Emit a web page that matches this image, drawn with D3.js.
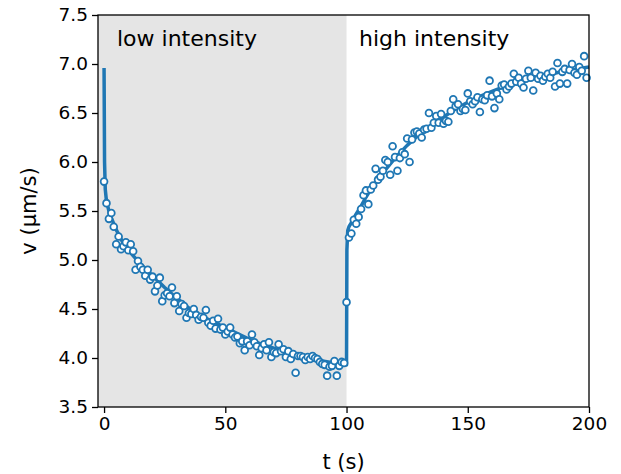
<!DOCTYPE html>
<html><head><meta charset="utf-8">
<script src="https://cdn.jsdelivr.net/npm/d3@7"></script>
<style>body{margin:0;background:#fff}svg{display:block}text{font-family:"DejaVu Sans",sans-serif}</style>
</head><body><svg id="c" width="621" height="474"></svg>
<script>
// ----- data -----
const lowT = d3.range(0, 100);
const lowV = [5.80,5.58,5.42,5.48,5.34,5.16,5.24,5.11,5.14,5.18,
  5.10,5.16,5.09,4.90,4.99,4.93,4.90,4.84,4.90,4.80,
  4.83,4.68,4.74,4.82,4.58,4.64,4.66,4.63,4.72,4.56,
  4.63,4.48,4.55,4.53,4.41,4.46,4.45,4.50,4.44,4.39,
  4.42,4.41,4.49,4.36,4.33,4.38,4.30,4.40,4.29,4.31,
  4.24,4.27,4.31,4.24,4.21,4.22,4.15,4.17,4.08,4.17,
  4.13,4.24,4.16,4.12,4.03,4.10,4.14,4.08,4.16,4.01,
  4.06,4.05,4.14,4.07,4.09,4.01,4.07,3.99,4.04,3.85,
  4.02,4.02,4.01,3.98,4.01,3.99,4.02,4.00,3.99,3.96,
  3.94,3.93,3.82,3.91,3.92,3.97,3.82,3.92,3.96,3.95];
const highT = d3.range(100, 200);
const highV = [4.57,5.23,5.27,5.41,5.37,5.44,5.52,5.66,5.71,5.57,
  5.72,5.76,5.93,5.82,5.85,5.91,6.02,6.00,5.87,6.16,
  6.05,5.91,6.04,6.10,6.08,6.24,6.00,6.23,6.30,6.31,
  6.29,6.25,6.33,6.34,6.50,6.35,6.40,6.47,6.40,6.49,
  6.39,6.42,6.41,6.52,6.64,6.57,6.59,6.52,6.54,6.53,
  6.70,6.62,6.59,6.62,6.66,6.51,6.64,6.63,6.68,6.83,
  6.67,6.55,6.70,6.64,6.78,6.79,6.74,6.77,6.80,6.90,
  6.82,6.86,6.80,6.76,6.85,6.93,6.86,6.73,6.91,6.85,
  6.88,6.83,6.87,6.90,6.86,6.92,6.77,7.01,6.80,6.92,
  6.95,6.80,6.94,7.00,6.91,6.89,6.97,6.93,7.08,6.86];
const fitLowT = [0,0.2,0.5,1,2,3,5,7.5,10,15,20,25,30,35,40,45,50,55,60,65,70,75,80,85,90,95,100];
const fitLowV = [6.96,6.0,5.72,5.6,5.5,5.43,5.31,5.19,5.10,4.96,4.84,4.72,4.61,4.51,4.43,4.37,4.31,4.25,4.19,4.14,4.10,4.06,4.03,4.00,3.97,3.95,3.93];
const fitHighT = [100,100.15,100.5,101,102,104,106,108,110,115,120,125,130,135,140,145,150,155,160,165,170,175,180,185,190,195,200];
const fitHighV = [3.93,5.1,5.3,5.34,5.38,5.47,5.55,5.64,5.72,5.89,6.04,6.17,6.28,6.38,6.46,6.54,6.61,6.67,6.72,6.77,6.81,6.84,6.87,6.90,6.93,6.95,6.97];
const xTicks = [0,50,100,150,200];
const yTicks = [3.5,4.0,4.5,5.0,5.5,6.0,6.5,7.0,7.5];
const regionLabels = ["low intensity","high intensity"];
const xLabel = "t (s)", yLabel = "v (μm/s)";

// ----- layout -----
const L=98, R=589, T=15, B=407;
const svg = d3.select("#c");
const x = d3.scaleLinear().domain([-2.5,200]).range([L,R]);
const y = d3.scaleLinear().domain([3.5,7.5]).range([B,T]);
const blue = "#1f77b4";

svg.append("rect").attr("x",x(-2.5)).attr("y",T).attr("width",x(100)-x(-2.5)).attr("height",B-T).attr("fill","#e5e5e5");

const g = svg.append("g");
const line = d3.line().x(d=>x(d[0])).y(d=>y(d[1]));
const fit = fitLowT.map((t,i)=>[t,fitLowV[i]]).concat(fitHighT.map((t,i)=>[t,fitHighV[i]]));
g.append("path").attr("d",line(fit)).attr("fill","none").attr("stroke",blue).attr("stroke-width",3.5).attr("stroke-linejoin","round");

const pts = lowT.map((t,i)=>[t,lowV[i]]).concat(highT.map((t,i)=>[t,highV[i]]));
g.selectAll("circle").data(pts).join("circle")
  .attr("cx",d=>x(d[0])).attr("cy",d=>y(d[1])).attr("r",3.4)
  .attr("fill","#fff").attr("stroke",blue).attr("stroke-width",1.8);

svg.append("text").attr("x",117).attr("y",46).attr("font-size",22).text(regionLabels[0]);
svg.append("text").attr("x",359).attr("y",46).attr("font-size",22).text(regionLabels[1]);

const xa = svg.append("g").attr("transform",`translate(0,${B})`)
  .call(d3.axisBottom(x).tickValues(xTicks).tickFormat(d3.format("d")).tickSizeInner(6).tickSizeOuter(0).tickPadding(4));
const ya = svg.append("g").attr("transform",`translate(${L},0)`)
  .call(d3.axisLeft(y).tickValues(yTicks).tickFormat(d3.format(".1f")).tickSizeInner(6).tickSizeOuter(0).tickPadding(4));
[xa,ya].forEach(a=>{
  a.selectAll("text").attr("font-size",18.5).attr("fill","#000").style("font-family","DejaVu Sans");
  a.selectAll("line").attr("stroke","#000").attr("stroke-width",1.3);
  a.select(".domain").remove();
});
svg.append("rect").attr("x",L).attr("y",T).attr("width",R-L).attr("height",B-T)
  .attr("fill","none").attr("stroke","#000").attr("stroke-width",1.3);

svg.append("text").attr("x",(L+R)/2).attr("y",469).attr("text-anchor","middle").attr("font-size",21).text(xLabel);
svg.append("text").attr("transform",`translate(36,${(T+B)/2}) rotate(-90)`).attr("text-anchor","middle").attr("font-size",21).text(yLabel);
</script></body></html>
